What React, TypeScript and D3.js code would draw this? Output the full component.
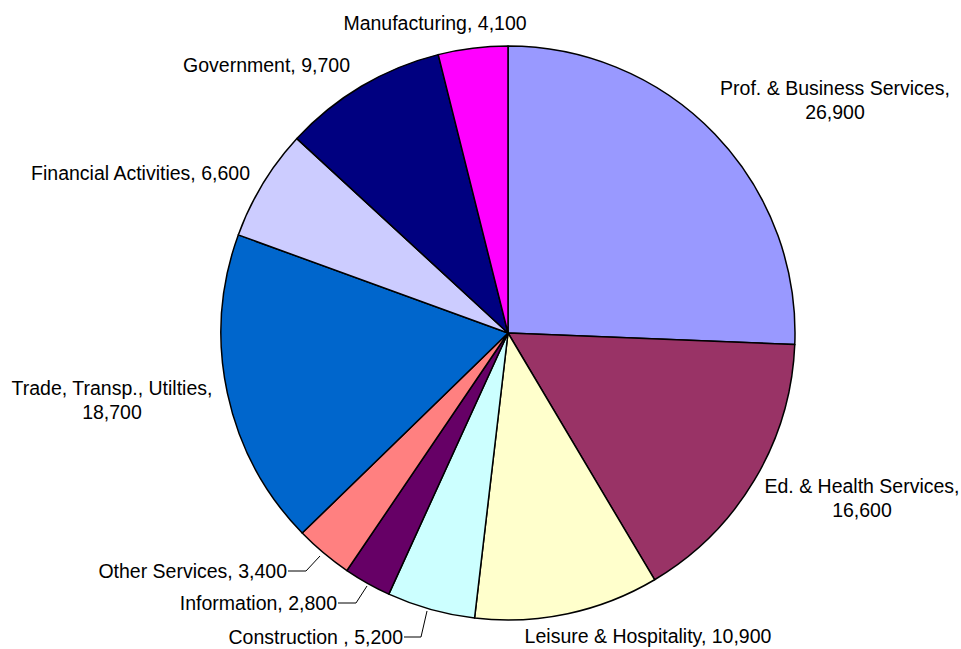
import React from "react";
import * as d3 from "d3";

const categories = [
  "Prof. & Business Services",
  "Ed. & Health Services",
  "Leisure & Hospitality",
  "Construction ",
  "Information",
  "Other Services",
  "Trade, Transp., Utilties",
  "Financial Activities",
  "Government",
  "Manufacturing",
];
const values = [26900, 16600, 10900, 5200, 2800, 3400, 18700, 6600, 9700, 4100];
const colors = [
  "#9999FF",
  "#993366",
  "#FFFFCC",
  "#CCFFFF",
  "#660066",
  "#FF8080",
  "#0066CC",
  "#CCCCFF",
  "#000080",
  "#FF00FF",
];

type LabelLayout = { lines: (s: string, v: string) => string[]; x: number; y: number; anchor: string; leader?: number[][] };
const layouts: LabelLayout[] = [
  { lines: (s, v) => [s + ",", v], x: 835, y: 88, anchor: "middle" },
  { lines: (s, v) => [s + ",", v], x: 862, y: 486, anchor: "middle" },
  { lines: (s, v) => [s + ", " + v], x: 648, y: 636, anchor: "middle" },
  { lines: (s, v) => [s + ", " + v], x: 403, y: 637, anchor: "end", leader: [[404, 637], [421, 637], [427, 611]] },
  { lines: (s, v) => [s + ", " + v], x: 337, y: 603, anchor: "end", leader: [[338, 603], [356, 603], [367, 586]] },
  { lines: (s, v) => [s + ", " + v], x: 287, y: 571, anchor: "end", leader: [[288, 571], [306, 571], [320, 556]] },
  { lines: (s, v) => [s + ",", v], x: 112, y: 388, anchor: "middle" },
  { lines: (s, v) => [s + ", " + v], x: 250, y: 173, anchor: "end" },
  { lines: (s, v) => [s + ", " + v], x: 350, y: 65, anchor: "end" },
  { lines: (s, v) => [s + ", " + v], x: 435, y: 23, anchor: "middle" },
];

export default function App() {
  const W = 961, H = 649;
  const cx = 508, cy = 333, r = 287;
  const fmt = d3.format(",");
  const pie = d3.pie<number>().sort(null).value((d) => d)(values);
  const arc = d3.arc<d3.PieArcDatum<number>>().innerRadius(0).outerRadius(r);
  return (
    <svg width={W} height={H} style={{ position: "absolute", left: 0, top: 0 }}>
      <rect width={W} height={H} fill="#fff" />
      <g transform={`translate(${cx},${cy})`}>
        {pie.map((p, i) => (
          <path key={i} d={arc(p) || ""} fill={colors[i]} stroke="#000" strokeWidth={1.5} strokeLinejoin="round" />
        ))}
      </g>
      {layouts.map((L, i) => {
        const lines = L.lines(categories[i], fmt(values[i]));
        return (
          <g key={i}>
            {L.leader && (
              <polyline points={L.leader.map((p) => p.join(",")).join(" ")} fill="none" stroke="#000" strokeWidth={1} />
            )}
            {lines.map((t, j) => (
              <text
                key={j}
                x={L.x}
                y={L.y + j * 24.5}
                dy="0.35em"
                textAnchor={L.anchor}
                fontFamily="Liberation Sans, Arial, sans-serif"
                fontSize={19.5}
                fill="#000"
              >
                {t}
              </text>
            ))}
          </g>
        );
      })}
    </svg>
  );
}
